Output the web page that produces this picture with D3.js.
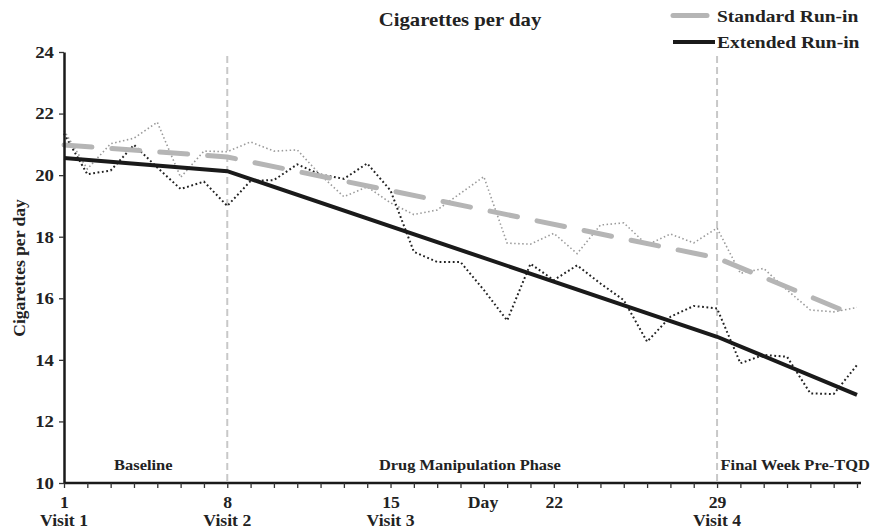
<!DOCTYPE html>
<html>
<head>
<meta charset="utf-8">
<script src="https://cdn.jsdelivr.net/npm/d3@7"></script>
<style>
  html, body { margin: 0; padding: 0; background: #fff; }
  svg text { font-family: "Liberation Serif", "Times New Roman", serif; font-weight: bold; fill: #222; }
</style>
</head>
<body>
<svg id="chart" width="874" height="532"></svg>
<script>
// ---- data ----
const days = [1,2,3,4,5,6,7,8,9,10,11,12,13,14,15,16,17,18,19,20,21,22,23,24,25,26,27,28,29,30,31,32,33,34,35];
const standardDaily = [21.45,20.2,21.02,21.2,21.72,19.93,20.78,20.76,21.08,20.78,20.82,20.0,19.30,19.62,19.1,18.72,18.87,19.41,19.95,17.79,17.76,18.11,17.45,18.38,18.45,17.73,18.09,17.80,18.28,16.81,16.97,16.27,15.62,15.56,15.70];
const extendedDaily = [21.35,20.03,20.15,20.98,20.25,19.55,19.79,19.0,19.81,19.84,20.35,20.02,19.88,20.38,19.5,17.51,17.18,17.18,16.27,15.28,17.12,16.59,17.07,16.48,15.94,14.59,15.40,15.75,15.67,13.89,14.16,14.10,12.91,12.89,13.83];
const fitDays = [1, 8, 29, 35];
const standardFit = [20.98, 20.59, 17.31, 15.42];
const extendedFit = [20.56, 20.13, 14.75, 12.86];
const labeledDays = [1, 8, 15, 22, 29];
const visitDays = [1, 8, 15, 29];
const visitLabels = ["Visit 1", "Visit 2", "Visit 3", "Visit 4"];
const visitLines = [8, 29];
const yTicks = [10, 12, 14, 16, 18, 20, 22, 24];
const phases = [
  {label: "Baseline", at: 4.4, anchor: "middle"},
  {label: "Drug Manipulation Phase", at: 18.4, anchor: "middle"},
  {label: "Final Week Pre-TQD", at: 29.15, anchor: "start"}
];
const legendItems = [
  {label: "Standard Run-in", color: "#b5b5b5", width: 5, len: 34},
  {label: "Extended Run-in", color: "#1a1a1a", width: 4, len: 42}
];

// ---- setup ----
const SX = 1.12; // horizontal text stretch of the original figure
const svg = d3.select("#chart");
const x = d3.scaleLinear().domain([1, 35]).range([64, 857]);
const y = d3.scaleLinear().domain([10, 24]).range([483, 52]);

function stext(g, tx, ty, str, size, anchor) {
  return g.append("text")
    .attr("transform", `translate(${tx},${ty}) scale(${SX},1)`)
    .attr("text-anchor", anchor || "middle")
    .style("font-size", size + "px")
    .text(str);
}

// vertical visit lines
svg.selectAll(".vline").data(visitLines).enter().append("line")
  .attr("x1", d => x(d)).attr("x2", d => x(d))
  .attr("y1", y(24) + 4).attr("y2", y(10))
  .attr("stroke", "#c8c8c8").attr("stroke-width", 2)
  .attr("stroke-dasharray", "7,4");

// daily dotted lines
const dailyLine = vals => d3.line().x((d, i) => x(days[i])).y(d => y(d))(vals);
svg.append("path").attr("d", dailyLine(standardDaily))
  .attr("fill", "none").attr("stroke", "#9a9a9a").attr("stroke-width", 1.6)
  .attr("stroke-dasharray", "1.5,2.5");
svg.append("path").attr("d", dailyLine(extendedDaily))
  .attr("fill", "none").attr("stroke", "#222").attr("stroke-width", 2)
  .attr("stroke-dasharray", "1.8,2.6");

// fitted lines
const fitLine = vals => d3.line().x((d, i) => x(fitDays[i])).y(d => y(d))(vals);
svg.append("path").attr("d", fitLine(standardFit))
  .attr("fill", "none").attr("stroke", "#b5b5b5").attr("stroke-width", 5)
  .attr("stroke-linecap", "round").attr("stroke-dasharray", "28,20");
svg.append("path").attr("d", fitLine(extendedFit))
  .attr("fill", "none").attr("stroke", "#1a1a1a").attr("stroke-width", 4);

// y axis
const yAxis = svg.append("g").attr("transform", `translate(${x(1)},0)`)
  .call(d3.axisLeft(y).tickValues(yTicks).tickSize(5).tickPadding(2).tickSizeOuter(0));
yAxis.select(".domain").attr("stroke", "#1a1a1a").attr("stroke-width", 2.5);
yAxis.selectAll(".tick line").attr("stroke", "#333").attr("stroke-width", 1.3);
yAxis.selectAll(".tick text")
  .attr("x", -10 / SX)
  .attr("transform", `scale(${SX},1)`)
  .style("font-size", "16.8px").attr("fill", "#222");

// x axis
const xAxis = svg.append("g").attr("transform", `translate(0,${y(10)})`)
  .call(d3.axisBottom(x).tickValues(days).tickSize(5).tickSizeOuter(0)
    .tickFormat(d => labeledDays.includes(d) ? d : ""));
xAxis.select(".domain").attr("stroke", "#1a1a1a").attr("stroke-width", 2.5)
  .attr("d", `M${x(1)},0H${x(35) + 4}`);
xAxis.selectAll(".tick line").attr("stroke", "#333").attr("stroke-width", 1.3);
xAxis.selectAll(".tick text")
  .attr("y", 25).attr("dy", 0)
  .attr("transform", `scale(${SX},1)`)
  .style("font-size", "15.8px").attr("fill", "#222");
svg.selectAll("g").attr("font-family", null).attr("font-size", null);

// visit labels
visitDays.forEach((d, i) => stext(svg, x(d), 526, visitLabels[i], 15.8, "middle"));
stext(svg, 483, 508, "Day", 15.8, "middle");

// phase labels
phases.forEach(p => stext(svg, x(p.at), 470, p.label, 14.7, p.anchor));

// title
stext(svg, 460, 26, "Cigarettes per day", 18.5, "middle");

// y label (rotated)
svg.append("text")
  .attr("transform", `translate(25,268) rotate(-90)`)
  .attr("text-anchor", "middle")
  .style("font-size", "17.5px")
  .text("Cigarettes per day");

// legend
legendItems.forEach((it, i) => {
  const ly = 15.5 + i * 26.5;
  svg.append("line").attr("x1", 673).attr("x2", 673 + it.len)
    .attr("y1", ly).attr("y2", ly)
    .attr("stroke", it.color).attr("stroke-width", it.width)
    .attr("stroke-linecap", i === 0 ? "round" : "butt");
  stext(svg, 717, ly + 6, it.label, 17.4, "start");
});
</script>
</body>
</html>
